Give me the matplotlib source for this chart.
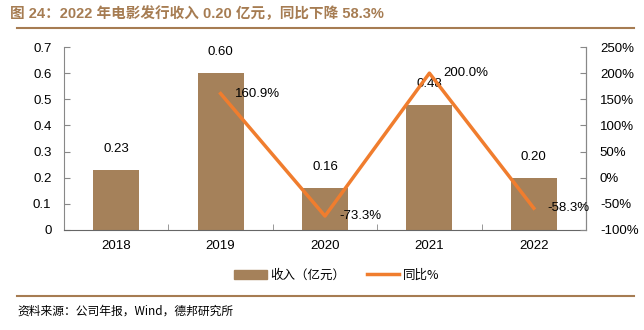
import matplotlib
matplotlib.use("Agg")
import matplotlib.pyplot as plt
from matplotlib.lines import Line2D
from matplotlib.patches import Patch
import numpy as np

years = ["2018", "2019", "2020", "2021", "2022"]
revenue = [0.23, 0.60, 0.16, 0.48, 0.20]
yoy_years = ["2019", "2020", "2021", "2022"]
yoy = [160.9, -73.3, 200.0, -58.3]
left_ticks = [0, 0.1, 0.2, 0.3, 0.4, 0.5, 0.6, 0.7]
left_tick_labels = ["0", "0.1", "0.2", "0.3", "0.4", "0.5", "0.6", "0.7"]
right_ticks = [-100, -50, 0, 50, 100, 150, 200, 250]
right_tick_labels = ["-100%", "-50%", "0%", "50%", "100%", "150%", "200%", "250%"]

title = "图 24：2022 年电影发行收入 0.20 亿元，同比下降 58.3%"
source = "资料来源：公司年报，Wind，德邦研究所"
legend_bar = "收入（亿元）"
legend_line = "同比%"

BAR = "#A5815A"
LINE = "#F07D2E"
BROWN = "#A67C52"

plt.rcParams['font.family'] = ['Liberation Sans', 'Noto Sans CJK SC', 'DejaVu Sans']

fig = plt.figure(figsize=(6.44, 3.30), dpi=100)
ax = fig.add_axes([64/644, 1-230/330, (586-64)/644, (230-47)/330])
x = np.arange(len(years))
ax.bar(x, revenue, width=0.44, color=BAR, zorder=2)
for xi, v in zip(x, revenue):
    ax.annotate(f"{v:.2f}", (xi, v), xytext=(0, 15), textcoords="offset points",
                ha="center", va="center", fontsize=9.5, color="#000000")
ax.set_xlim(-0.5, len(years)-0.5)
ax.set_ylim(0, 0.7)
ax.set_yticks(left_ticks)
ax.set_yticklabels(left_tick_labels, fontsize=9.5)
ax.set_xticks(x)
ax.set_xticklabels(years, fontsize=9.5)
ax.tick_params(axis='x', length=0, pad=7)
ax.set_xticks(np.arange(len(years)+1)-0.5, minor=True)
ax.tick_params(axis='x', which='minor', direction='in', length=4, color='#888888')
ax.tick_params(axis='y', direction='in', length=4, color='#888888', pad=9)
for s in ['top']:
    ax.spines[s].set_visible(False)
for s in ['left', 'right', 'bottom']:
    ax.spines[s].set_color('#888888')
    ax.spines[s].set_linewidth(0.8)
ax.spines['bottom'].set_color('#666666')

ax2 = ax.twinx()
xi_yoy = [years.index(y) for y in yoy_years]
ax2.plot(xi_yoy, yoy, color=LINE, linewidth=2.5, zorder=3)
for xv, v in zip(xi_yoy, yoy):
    ax2.annotate(f"{v:.1f}%", (xv, v), xytext=(10, 0), textcoords="offset points",
                 ha="left", va="center", fontsize=9.5, color="#000000")
ax2.set_ylim(-100, 250)
ax2.set_yticks(right_ticks)
ax2.set_yticklabels(right_tick_labels, fontsize=9.5)
ax2.tick_params(axis='y', direction='in', length=4, color='#888888', pad=10)
for s in ['top', 'left', 'bottom']:
    ax2.spines[s].set_visible(False)
ax2.spines['right'].set_color('#888888')
ax2.spines['right'].set_linewidth(0.8)

handles = [Patch(facecolor=BAR, edgecolor=BAR), Line2D([0], [0], color=LINE, linewidth=2.5)]
fig.legend(handles, [legend_bar, legend_line], loc='center', bbox_to_anchor=(337/644, 1-275/330),
           ncol=2, frameon=False, handlelength=2.6, handletextpad=0.3,
           columnspacing=1.7, prop={'family': ['Noto Sans CJK SC', 'DejaVu Sans'], 'size': 9})

fig.text(10/644, 1-14/330, title, fontsize=10.5, fontweight='bold', color=BROWN,
         ha='left', va='center', family=['Liberation Sans', 'Noto Sans CJK SC'])
fig.add_artist(Line2D([17/644, 634/644], [1-28/330, 1-28/330], color=BROWN, linewidth=1.5))
fig.add_artist(Line2D([17/644, 634/644], [1-296/330, 1-296/330], color=BROWN, linewidth=1.5))
fig.text(17/644, 1-311/330, source, fontsize=8.5, color='#000000', ha='left', va='center',
         family=['Noto Sans CJK SC', 'Liberation Sans'])

fig.savefig("out.png", dpi=100)
